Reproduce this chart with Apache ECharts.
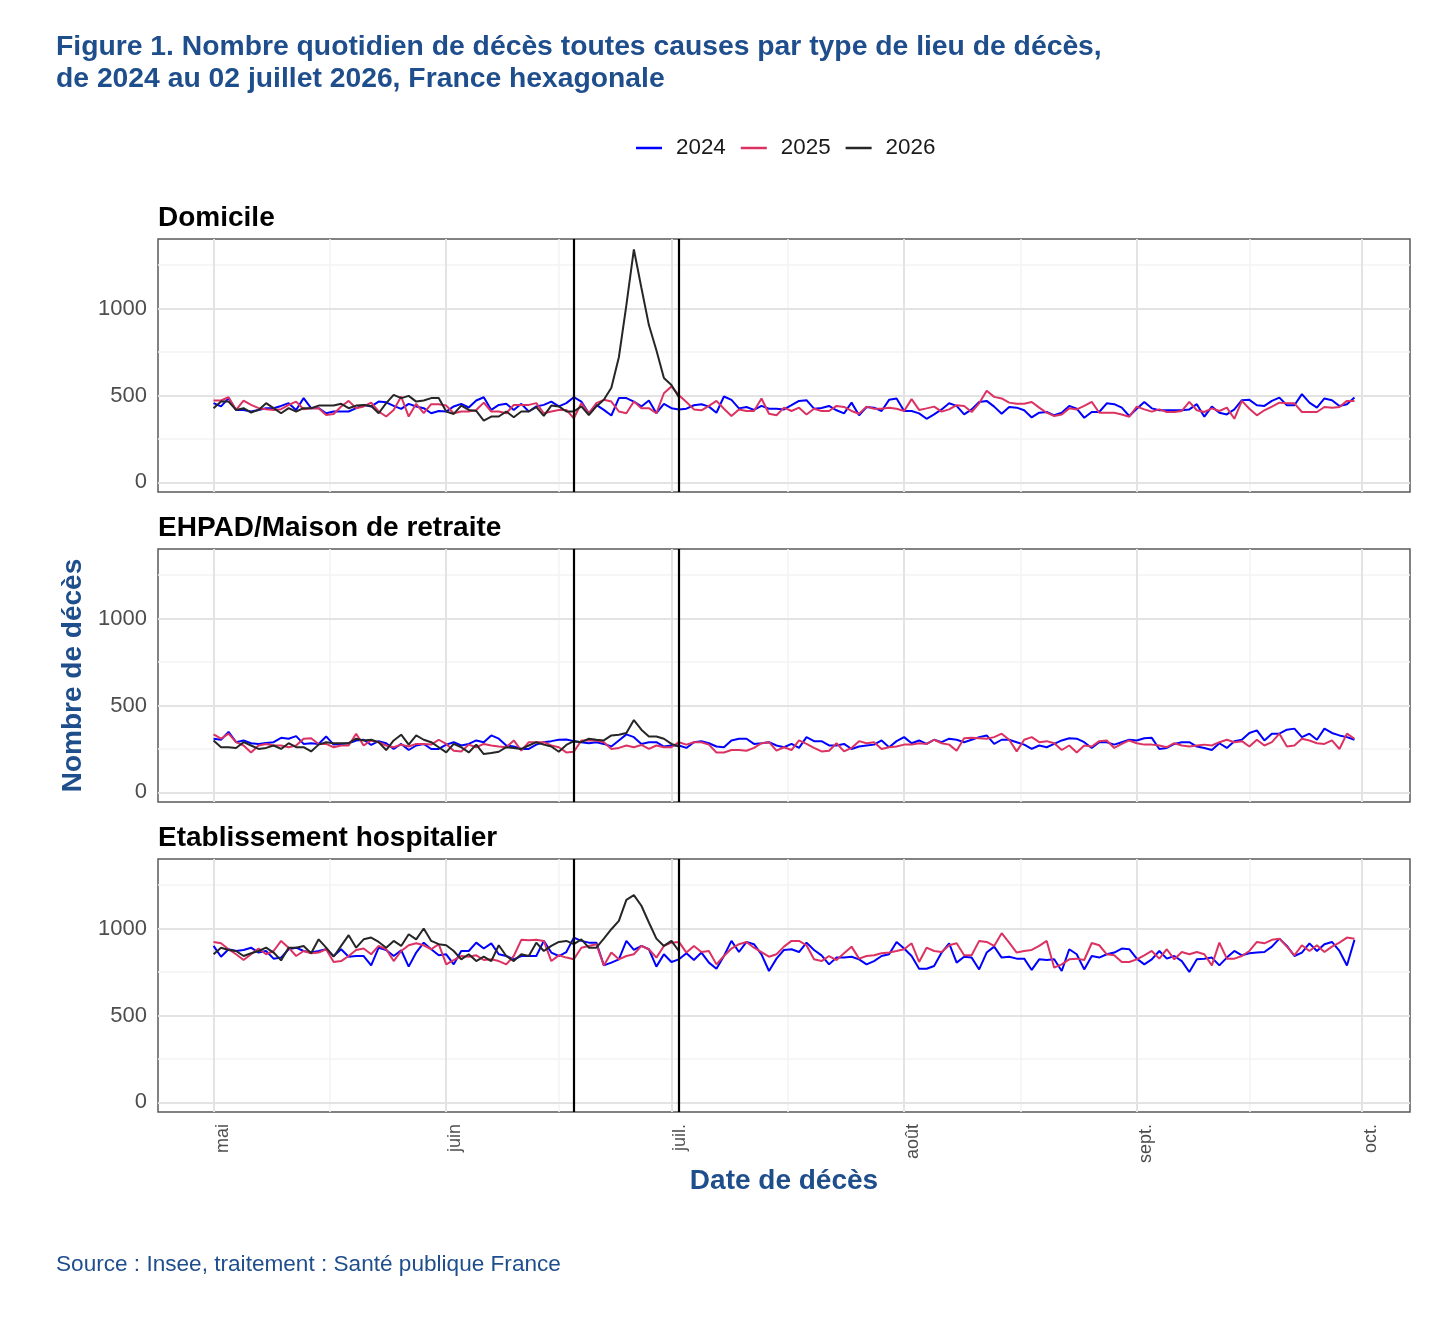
<!DOCTYPE html>
<html>
<head>
<meta charset="utf-8">
<title>Décès quotidiens par lieu de décès</title>
<script src="https://cdn.jsdelivr.net/npm/echarts@6/dist/echarts.min.js"></script>
<style>
  html, body { margin: 0; padding: 0; background: #fff; }
  #chart { width: 1436px; height: 1318px; }
</style>
</head>
<body>
<div id="chart"></div>
<script>
// axe x : nombre de jours depuis le 1er mai
const monthTicks = [0, 31, 61, 92, 123, 153];
const monthLabels = ['mai', 'juin', 'juil.', 'août', 'sept.', 'oct.'];
const monthMinor = [15.5, 46, 76.5, 107.5, 138];
const yTicks = [0, 500, 1000];
const yMinor = [250, 750, 1250];
const periodDays = [48, 62]; // 18 juin et 2 juillet

const panels = ['Domicile', 'EHPAD/Maison de retraite', 'Etablissement hospitalier'];
const years = ['2024', '2025', '2026'];

// Domicile
const domicile2024 = [
  456,437,485,417,417,408,417,427,427,440,
  456,417,485,427,427,398,408,408,408,427,
  446,437,465,461,440,423,452,437,427,398,
  411,408,437,452,431,471,490,417,446,452,
  417,452,408,437,446,465,437,456,490,465,
  398,446,417,385,485,485,465,437,471,398,
  452,427,
  420,424,444,450,436,401,494,475,426,434,
  417,440,424,424,420,444,469,473,424,428,
  440,415,397,459,386,434,430,411,475,483,
  411,411,397,366,391,420,455,440,391,420,
  463,469,436,395,434,430,415,374,401,405,
  386,401,440,424,372,405,405,455,450,430,
  382,424,463,426,415,415,415,415,420,450,
  378,436,401,391,420,473,475,444,440,469,
  488,444,444,508,459,430,483,473,440,450,
  488
];
const domicile2025 = [
  471,471,490,417,471,446,427,421,417,421,
  446,465,421,427,427,388,394,437,469,427,
  437,459,408,379,417,494,379,452,398,450,
  450,442,398,408,408,417,459,408,408,398,
  446,446,446,456,398,408,417,417,369,456,
  398,456,475,465,408,398,465,427,427,398,
  513,552,
  502,463,420,415,440,469,424,382,420,411,
  411,483,395,386,430,411,430,391,424,411,
  411,440,434,411,395,436,424,424,430,424,
  411,479,417,426,436,407,420,444,440,405,
  455,527,492,483,459,453,453,463,430,401,
  382,391,426,420,440,463,401,401,401,391,
  378,436,420,407,420,405,405,411,463,415,
  405,426,411,430,366,469,424,386,415,436,
  459,455,455,405,405,405,434,430,434,469,
  469
];
const domicile2026 = [
  427,465,465,417,427,402,417,456,427,398,
  427,408,427,427,442,442,442,452,427,442,
  446,440,398,456,504,485,498,465,471,485,
  485,408,394,442,417,411,356,379,379,408,
  375,408,408,433,383,442,437,408,408,437,
  388,437,475,545,720,1020,1340,1120,905,760,
  600,560,490
];

// EHPAD/Maison de retraite
const ehpad2024 = [
  309,303,348,289,299,283,279,285,289,314,
  309,324,279,283,279,322,275,279,283,299,
  303,273,295,283,250,279,244,270,279,250,
  250,275,289,270,279,299,289,328,309,270,
  264,250,250,275,289,295,303,305,295,289,
  283,289,279,264,299,334,318,279,289,289,
  264,270,
  270,256,289,295,283,264,260,299,309,309,
  279,283,289,270,260,279,256,318,295,295,
  270,270,279,250,264,270,275,299,260,295,
  318,283,299,279,303,289,309,303,289,303,
  318,328,279,303,303,289,275,250,270,260,
  279,299,312,309,289,256,289,289,275,289,
  303,299,312,314,250,256,279,289,289,264,
  256,244,283,256,295,303,342,357,299,338,
  338,361,367,318,338,303,367,342,328,318,
  303
];
const ehpad2025 = [
  334,309,338,289,270,230,270,279,270,270,
  260,270,309,312,279,279,260,270,270,338,
  270,299,289,270,260,275,264,279,279,275,
  303,279,240,236,275,260,279,270,264,260,
  299,240,289,289,289,270,260,230,234,299,
  299,299,289,250,256,270,260,273,250,270,
  260,260,
  289,275,289,289,275,230,230,244,244,240,
  256,283,289,240,260,244,299,279,256,236,
  240,283,236,256,295,283,289,250,260,264,
  275,275,283,279,303,283,275,240,312,314,
  312,309,318,338,303,236,303,318,289,295,
  283,244,270,230,270,264,295,299,256,279,
  299,283,275,275,270,260,283,270,264,270,
  275,270,289,303,289,295,264,303,270,289,
  338,264,270,309,299,283,279,299,250,338,
  309
];
const ehpad2026 = [
  299,260,260,256,289,270,250,256,270,250,
  283,260,260,236,275,289,283,283,283,309,
  299,303,289,244,299,332,275,328,303,289,
  260,230,279,260,230,275,221,227,234,260,
  256,250,270,289,275,264,234,273,295,289,
  309,303,299,328,332,342,416,361,322,322,
  309,279,264
];

// Etablissement hospitalier
const hopital2024 = [
  900,838,881,871,877,890,862,871,827,833,
  881,890,871,862,871,881,842,881,838,842,
  842,788,890,877,842,875,781,862,919,881,
  846,852,794,871,871,919,885,915,852,842,
  823,842,842,842,929,862,842,865,948,929,
  919,919,788,804,823,929,877,900,881,781,
  852,808,
  823,858,819,862,804,769,842,929,865,923,
  910,852,756,827,877,881,865,919,877,846,
  794,833,833,838,823,794,813,842,852,923,
  885,842,769,769,785,862,915,804,838,833,
  765,862,896,833,838,827,827,762,823,819,
  823,756,881,852,765,842,833,852,862,885,
  881,827,794,823,871,827,842,813,750,823,
  827,833,788,833,871,846,858,862,865,896,
  942,900,842,862,915,871,910,923,871,788,
  935
];
const hopital2025 = [
  923,915,881,852,819,852,885,852,871,929,
  890,842,871,858,862,881,808,813,842,877,
  885,852,900,881,813,871,904,915,904,881,
  910,794,819,842,838,846,819,823,813,794,
  842,935,933,935,929,813,846,833,823,890,
  900,910,788,862,823,842,852,900,881,833,
  900,919,
  923,862,900,865,871,794,842,885,910,923,
  890,865,838,852,896,929,929,904,823,813,
  842,819,858,896,827,842,846,858,862,871,
  881,915,808,890,871,865,904,915,846,846,
  929,923,900,973,919,862,871,877,900,929,
  775,794,823,827,819,917,904,852,846,808,
  808,823,846,871,827,881,823,865,852,865,
  852,788,919,827,827,842,871,923,915,935,
  942,896,846,904,871,904,865,896,919,948,
  942
];
const hopital2026 = [
  852,890,877,871,842,858,871,890,862,817,
  890,890,900,858,938,890,838,900,962,890,
  938,948,923,890,929,900,967,938,1000,929,
  910,904,871,823,852,813,838,813,904,842,
  813,852,842,919,871,900,923,929,910,938,
  890,890,942,996,1044,1165,1192,1131,1035,942,
  900,929,871
];

const panelData = [
  [domicile2024, domicile2025, domicile2026],
  [ehpad2024, ehpad2025, ehpad2026],
  [hopital2024, hopital2025, hopital2026]
];

const FONT = "'Liberation Sans', Arial, Helvetica, sans-serif";
const BLUE_TXT = '#1f4e8c';
const lineColors = ['#0000ff', '#dc3262', '#262626'];
const gridTops = [239, 549, 859];
const gridHeight = 253;

const majorStyle = { color: '#e3e3e3', width: 2, type: 'solid' };
const minorStyle = { color: '#f3f3f3', width: 1.5, type: 'solid' };

function gridLines() {
  return []
    .concat(yMinor.map(v => ({ yAxis: v, lineStyle: minorStyle })))
    .concat(monthMinor.map(v => ({ xAxis: v, lineStyle: minorStyle })))
    .concat(yTicks.map(v => ({ yAxis: v, lineStyle: majorStyle })))
    .concat(monthTicks.map(v => ({ xAxis: v, lineStyle: majorStyle })));
}

const chart = echarts.init(document.getElementById('chart'), null, { renderer: 'canvas' });

const grids = [], xAxes = [], yAxes = [], series = [];
const titles = [
  {
    text: 'Figure 1. Nombre quotidien de décès toutes causes par type de lieu de décès,\nde 2024 au 02 juillet 2026, France hexagonale',
    left: 56, top: 31, padding: 0,
    textStyle: { fontFamily: FONT, fontSize: 28.3, fontWeight: 'bold', color: BLUE_TXT, lineHeight: 32 }
  },
  {
    text: 'Source : Insee, traitement : Santé publique France',
    left: 56, top: 1252, padding: 0,
    textStyle: { fontFamily: FONT, fontSize: 22.6, fontWeight: 'normal', color: BLUE_TXT, lineHeight: 26 }
  }
];

panels.forEach((name, i) => {
  titles.push({
    text: name, left: 158, top: gridTops[i] - 37, padding: 0,
    textStyle: { fontFamily: FONT, fontSize: 28, fontWeight: 'bold', color: '#000', lineHeight: 32 }
  });

  grids.push({
    left: 158, top: gridTops[i], width: 1252, height: gridHeight,
    show: true, borderColor: '#595959', borderWidth: 1.5, backgroundColor: 'transparent'
  });

  xAxes.push({
    type: 'value', gridIndex: i, min: -7.4, max: 159.4,
    axisLine: { show: false }, axisTick: { show: false }, splitLine: { show: false },
    name: i === 2 ? 'Date de décès' : '',
    nameLocation: 'middle', nameGap: 49,
    nameTextStyle: { fontFamily: FONT, fontSize: 28, fontWeight: 'bold', color: BLUE_TXT },
    axisLabel: i === 2 ? {
      customValues: monthTicks,
      formatter: v => monthLabels[monthTicks.indexOf(v)],
      rotate: 90, margin: 12, verticalAlign: 'top',
      fontFamily: FONT, fontSize: 18, color: '#4d4d4d'
    } : { show: false }
  });

  yAxes.push({
    type: 'value', gridIndex: i, min: -55, max: 1400,
    axisLine: { show: false }, axisTick: { show: false }, splitLine: { show: false },
    name: i === 1 ? 'Nombre de décès' : '',
    nameLocation: 'middle', nameGap: 61,
    nameTextStyle: { fontFamily: FONT, fontSize: 28, fontWeight: 'bold', color: BLUE_TXT },
    axisLabel: {
      customValues: yTicks, formatter: v => String(v),
      margin: 11, fontFamily: FONT, fontSize: 22, color: '#4d4d4d'
    }
  });

  panelData[i].forEach((arr, j) => {
    const s = {
      name: years[j], type: 'line', xAxisIndex: i, yAxisIndex: i,
      data: arr.map((v, d) => [d, v]),
      symbol: 'none', z: 3,
      lineStyle: { width: 2, color: lineColors[j] },
      itemStyle: { color: lineColors[j] }
    };
    if (j === 0) {
      s.markLine = {
        silent: true, symbol: ['none', 'none'], z: 1, animation: false,
        label: { show: false }, emphasis: { disabled: true },
        data: gridLines()
      };
    }
    if (j === 2) {
      s.markLine = {
        silent: true, symbol: ['none', 'none'], z: 6, animation: false,
        label: { show: false }, emphasis: { disabled: true },
        lineStyle: { color: '#000', width: 2.2, type: 'solid' },
        data: periodDays.map(v => ({ xAxis: v }))
      };
    }
    series.push(s);
  });
});

chart.setOption({
  animation: false,
  backgroundColor: '#fff',
  textStyle: { fontFamily: FONT },
  title: titles,
  legend: {
    data: years, left: 636, top: 137, padding: 0,
    icon: 'rect', itemWidth: 26, itemHeight: 2.5, itemGap: 15,
    textStyle: { fontFamily: FONT, fontSize: 22.4, color: '#1a1a1a', padding: [0, 0, 0, 9] }
  },
  grid: grids,
  xAxis: xAxes,
  yAxis: yAxes,
  series: series
});
</script>
</body>
</html>
